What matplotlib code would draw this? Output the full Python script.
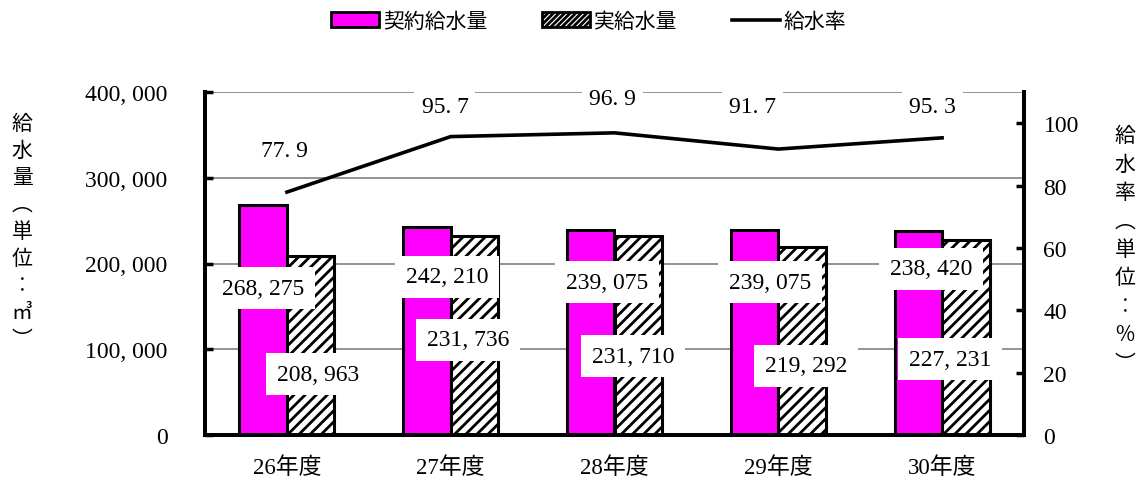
import matplotlib
matplotlib.use("Agg")
import matplotlib.pyplot as plt
from matplotlib.patches import Patch
from matplotlib.lines import Line2D

plt.rcParams['font.family'] = ['Liberation Serif', 'Noto Sans CJK JP', 'DejaVu Sans']
plt.rcParams['hatch.linewidth'] = 2.0

# data
years = ['26年度', '27年度', '28年度', '29年度', '30年度']
contract = [268275, 242210, 239075, 239075, 238420]
actual = [208963, 231736, 231710, 219292, 227231]
rate = [77.9, 95.7, 96.9, 91.7, 95.3]

# label anchor positions (data coordinates)
contract_lbl_xy = [(-0.146, 171400), (0.977, 184300), (1.954, 178400), (2.949, 178400), (3.932, 193600)]
actual_lbl_xy = [(0.19, 71100), (1.106, 110800), (2.113, 92100), (3.169, 80500), (4.048, 88600)]
rate_lbl_xy = [(-0.018, 91.1), (0.965, 105.2), (1.99, 107.8), (2.84, 105.2), (3.94, 105.2)]

fig = plt.figure(figsize=(11.43, 4.85), dpi=100)
ax = fig.add_axes([205 / 1143, 1 - 436 / 485, (1024 - 205) / 1143, (436 - 93) / 485])
ax2 = ax.twinx()

x = list(range(len(years)))
w = 0.29
ax.bar([i - w / 2 for i in x], contract, width=w, color='#ff00ff', edgecolor='black',
       linewidth=2.2, zorder=3)
ax.bar([i + w / 2 for i in x], actual, width=w, color='white', edgecolor='black',
       linewidth=2.2, hatch='///', zorder=3)

ax.set_xlim(-0.5, 4.5)
ax.set_ylim(0, 400000)
ax.set_yticks([0, 100000, 200000, 300000, 400000])
ax.set_yticklabels([f"{v:,}".replace(",", ", ") for v in [0, 100000, 200000, 300000, 400000]])
ax.yaxis.grid(True, color='#808080', linewidth=1.2, zorder=0)
ax.set_axisbelow(True)
ax.set_xticks(x)
ax.set_xticklabels(years, fontsize=16.5)
ax.tick_params(axis='x', length=0, pad=15)
ax.tick_params(axis='y', direction='in', length=6, width=2.5, labelsize=17, pad=27)

ax2.plot(x, rate, color='black', linewidth=2.6, zorder=4)
ax2.set_ylim(0, 110)
ax2.set_yticks([0, 20, 40, 60, 80, 100])
ax2.tick_params(axis='y', direction='in', length=6, width=2.5, labelsize=17, pad=14)

for a in (ax, ax2):
    a.spines['top'].set_visible(False)
    for s in ('left', 'right', 'bottom'):
        a.spines[s].set_linewidth(2.8)

box = dict(boxstyle='square,pad=0.45', facecolor='white', edgecolor='none')
for (lx, ly), v in zip(contract_lbl_xy, contract):
    ax.text(lx, ly, f"{v:,}".replace(",", ", "), ha='center', va='center',
            fontsize=17, bbox=box, zorder=5)
for (lx, ly), v in zip(actual_lbl_xy, actual):
    ax.text(lx, ly, f"{v:,}".replace(",", ", "), ha='center', va='center',
            fontsize=17, bbox=box, zorder=5)
box2 = dict(boxstyle='square,pad=0.3', facecolor='white', edgecolor='none')
for (lx, ly), v in zip(rate_lbl_xy, rate):
    ax2.text(lx, ly, f"{v:.1f}".replace(".", ". "), ha='center', va='center',
             fontsize=17, bbox=box2, zorder=5)

# vertical axis titles
fig.text(22 / 1143, 1 - 232 / 485, "給\n水\n量\n︵\n単\n位\n︰\n㎥\n︶", ha='center', va='center',
         fontsize=15, linespacing=1.3, family=['Noto Sans CJK JP', 'DejaVu Sans'])
fig.text(1125 / 1143, 1 - 250 / 485, "給\n水\n率\n︵\n単\n位\n︰\n%\n︶", ha='center', va='center',
         fontsize=15, linespacing=1.38, family=['Noto Sans CJK JP', 'DejaVu Sans'])

handles = [Patch(facecolor='#ff00ff', edgecolor='black', linewidth=2),
           Patch(facecolor='white', edgecolor='black', linewidth=2, hatch='//////'),
           Line2D([0], [0], color='black', linewidth=2.6)]
fig.legend(handles, ['契約給水量', '実給水量', '給水率'], loc='center',
           bbox_to_anchor=(589 / 1143, 1 - 22 / 485), ncol=3, frameon=False,
           prop={'family': ['Noto Sans CJK JP'], 'size': 15},
           handlelength=2.3, handleheight=0.7, handletextpad=0.2, columnspacing=2.6)

fig.savefig('out.png', dpi=100)
